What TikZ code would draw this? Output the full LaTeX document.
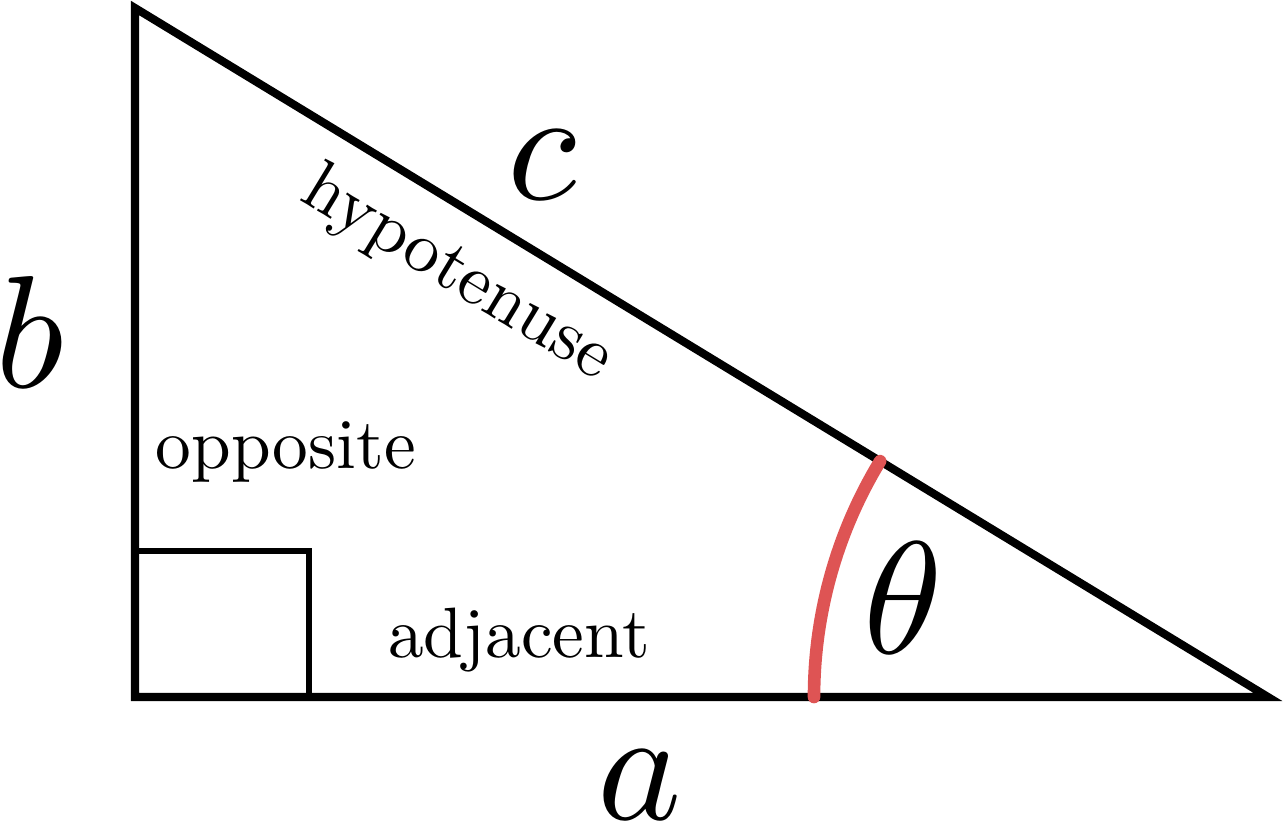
\documentclass[tikz,border=0pt]{standalone}
\usepackage{amsmath,amssymb}
\usepackage{graphicx}
\usepackage{tikz}
\usetikzlibrary{calc}
\usepackage{xcolor}
\definecolor{anglered}{RGB}{222,84,84}

\newcommand{\sidetext}[1]{\scalebox{4.55}{$#1$}}
\newcommand{\wordtext}[1]{\scalebox{2.03}{#1}}

\tikzset{
  sidelabel/.style={inner sep=0pt},
  wordlabel/.style={inner sep=0pt}
}

\begin{document}
\begin{tikzpicture}
    \useasboundingbox (0,0) rectangle (12.83,8.22);
    % vertices
    \coordinate (right) at (1.35,1.25);
    \coordinate (top) at (1.35,8.14);
    \coordinate (tip) at (12.68,1.25);
    % right-angle mark
    \draw[line width=1.5pt] (right) rectangle (3.09,2.71);
    % triangle
    \draw[line width=2.3pt, miter limit=20] (right) -- (top) -- (tip) -- cycle;
    % angle arc
    \draw[anglered, line width=3.6pt, line cap=round]
      ($(tip)+(180:4.54)$) arc[start angle=180, end angle=148.7, radius=4.54];
    % labels
    \node[sidelabel] (labb) at (0.30,4.90) {\sidetext{b}};
    \node[sidelabel] (labc) at (5.42,6.57) {\sidetext{c}};
    \node[sidelabel] (laba) at (6.40,0.37) {\sidetext{a}};
    \node[sidelabel] (labtheta) at (9.03,2.24) {\sidetext{\theta}};
    \node[wordlabel] (opp) at (2.86,3.70) {\wordtext{opposite}};
    \node[wordlabel] (adj) at (5.19,1.82) {\wordtext{adjacent}};
    \node[wordlabel, rotate=-31.3] (hyp) at (4.57,5.47) {\wordtext{hypotenuse}};
\end{tikzpicture}
\end{document}
